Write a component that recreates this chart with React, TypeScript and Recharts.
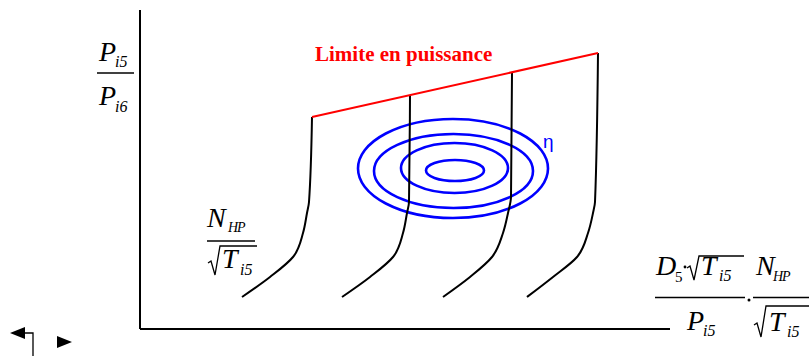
import React from 'react';
import { ComposedChart, Line, XAxis, YAxis, ReferenceArea } from 'recharts';

// Iso-speed lines of the HP compressor (flow parameter x, pressure ratio y)
const speedLine1 = [
  { x: 2.04, y: 0.64 }, { x: 2.6, y: 1.04 }, { x: 3.06, y: 1.44 }, { x: 3.26, y: 1.92 },
  { x: 3.34, y: 2.32 }, { x: 3.38, y: 2.54 }, { x: 3.44, y: 4.24 },
];
const speedLine2 = [
  { x: 4.04, y: 0.64 }, { x: 4.6, y: 1.04 }, { x: 5.06, y: 1.44 }, { x: 5.26, y: 1.92 },
  { x: 5.34, y: 2.32 }, { x: 5.38, y: 2.54 }, { x: 5.4, y: 4.68 },
];
const speedLine3 = [
  { x: 6.06, y: 0.64 }, { x: 6.6, y: 1.04 }, { x: 7.04, y: 1.44 }, { x: 7.26, y: 1.92 },
  { x: 7.36, y: 2.32 }, { x: 7.42, y: 2.64 }, { x: 7.44, y: 5.12 },
];
const speedLine4 = [
  { x: 7.74, y: 0.64 }, { x: 8.26, y: 1.04 }, { x: 8.74, y: 1.44 }, { x: 8.96, y: 1.92 },
  { x: 9.06, y: 2.32 }, { x: 9.1, y: 2.54 }, { x: 9.16, y: 5.52 },
];
const speedLines = [speedLine1, speedLine2, speedLine3, speedLine4];

// Power limit joining the tops of the speed lines
const powerLimit = [{ x: 3.44, y: 4.24 }, { x: 9.16, y: 5.52 }];

// Efficiency contours: bounding boxes of each iso-efficiency ellipse
const effX1 = [5.72, 5.22, 4.68, 4.36];
const effX2 = [6.88, 7.36, 7.86, 8.16];
const effY1 = [2.96, 2.72, 2.42, 2.22];
const effY2 = [3.38, 3.72, 3.9, 4.2];

const EllipseShape = (props: any) => {
  const { x, y, width, height } = props;
  return (
    <ellipse
      cx={x + width / 2}
      cy={y + height / 2}
      rx={width / 2}
      ry={height / 2}
      fill="none"
      stroke="#0000ff"
      strokeWidth={2.6}
    />
  );
};

const serifItalic = { fontFamily: 'Liberation Serif, Times New Roman, serif', fontStyle: 'italic' };

const Radical = ({ x, top, bottom, right }: { x: number; top: number; bottom: number; right: number }) => (
  <path
    d={`M${x},${bottom - 12} L${x + 3},${bottom - 14} L${x + 7},${bottom} L${x + 12},${top} L${right},${top}`}
    fill="none"
    stroke="#000"
    strokeWidth={1.3}
  />
);

const Annotations = () => (
  <svg
    width={809}
    height={356}
    style={{ position: 'absolute', left: 0, top: 0, pointerEvents: 'none' }}
  >
    {/* Pi5 / Pi6 */}
    <g style={serifItalic} fill="#000">
      <text x={99} y={61} fontSize={28}>P</text>
      <text x={115} y={67} fontSize={16}>i5</text>
      <line x1={97} y1={73} x2={134} y2={73} stroke="#000" strokeWidth={1.3} />
      <text x={99} y={105} fontSize={28}>P</text>
      <text x={115} y={112} fontSize={16}>i6</text>
    </g>

    {/* NHP / sqrt(Ti5) */}
    <g style={serifItalic} fill="#000">
      <text x={207} y={227} fontSize={28}>N</text>
      <text x={228} y={232} fontSize={14} letterSpacing={-1}>HP</text>
      <line x1={207} y1={241} x2={255} y2={241} stroke="#000" strokeWidth={1.3} />
      <Radical x={208} top={246} bottom={275} right={257} />
      <text x={222} y={268} fontSize={28}>T</text>
      <text x={240} y={275} fontSize={16}>i5</text>
    </g>

    {/* D5 . sqrt(Ti5) / Pi5 . NHP / sqrt(Ti5) */}
    <g style={serifItalic} fill="#000">
      <text x={656} y={275} fontSize={28}>D</text>
      <text x={675} y={282} fontSize={15} style={{ fontStyle: 'normal' }}>5</text>
      <circle cx={685} cy={267} r={1.4} />
      <Radical x={687} top={256} bottom={280} right={744} />
      <text x={701} y={275} fontSize={28}>T</text>
      <text x={719} y={281} fontSize={16}>i5</text>
      <line x1={655} y1={297.5} x2={745} y2={297.5} stroke="#000" strokeWidth={1.3} />
      <text x={687} y={330} fontSize={28}>P</text>
      <text x={703} y={336} fontSize={16}>i5</text>

      <circle cx={749} cy={300} r={1.5} />

      <text x={756} y={275} fontSize={28}>N</text>
      <text x={773} y={281} fontSize={14} letterSpacing={-1}>HP</text>
      <line x1={753} y1={297.5} x2={809} y2={297.5} stroke="#000" strokeWidth={1.3} />
      <Radical x={754} top={306} bottom={337} right={809} />
      <text x={769} y={331} fontSize={28}>T</text>
      <text x={787} y={337} fontSize={16}>i5</text>
    </g>

    <text
      x={315}
      y={61}
      style={{ fontFamily: 'Liberation Serif, Times New Roman, serif', fontWeight: 'bold' }}
      fontSize={21}
      fill="#ff0000"
    >
      Limite en puissance
    </text>
    <text x={543} y={148} style={{ fontFamily: 'Liberation Sans, Arial, sans-serif' }} fontSize={19} fill="#0000ff">
      η
    </text>

    {/* navigation marks */}
    <polygon points="10,333 25,327 25,339" fill="#000" />
    <polyline points="25,333 33,333 33,356" fill="none" stroke="#000" strokeWidth={1.3} />
    <polygon points="57,336 57,348 72,342" fill="#000" />
  </svg>
);

export default function App() {
  return (
    <div style={{ position: 'absolute', left: 0, top: 0, width: 809, height: 356, background: '#fff' }}>
      <ComposedChart width={809} height={356} margin={{ top: 10, right: 139, bottom: 26, left: 139 }}>
        <XAxis
          type="number"
          dataKey="x"
          domain={[0, 10.6]}
          allowDataOverflow
          tick={false}
          tickLine={false}
          height={1}
          axisLine={{ stroke: '#000', strokeWidth: 2 }}
        />
        <YAxis
          type="number"
          dataKey="y"
          domain={[0, 6.38]}
          allowDataOverflow
          tick={false}
          tickLine={false}
          width={1}
          axisLine={{ stroke: '#000', strokeWidth: 2 }}
        />
        {effX1.map((x1, i) => (
          <ReferenceArea
            key={`eff-${i}`}
            x1={x1}
            x2={effX2[i]}
            y1={effY1[i]}
            y2={effY2[i]}
            shape={<EllipseShape />}
          />
        ))}
        {speedLines.map((pts, i) => (
          <Line
            key={`speed-${i}`}
            data={pts}
            dataKey="y"
            type="monotoneY"
            stroke="#000"
            strokeWidth={2}
            dot={false}
            isAnimationActive={false}
          />
        ))}
        <Line
          data={powerLimit}
          dataKey="y"
          type="linear"
          stroke="#ff0000"
          strokeWidth={2}
          dot={false}
          isAnimationActive={false}
        />
      </ComposedChart>
      <Annotations />
    </div>
  );
}
